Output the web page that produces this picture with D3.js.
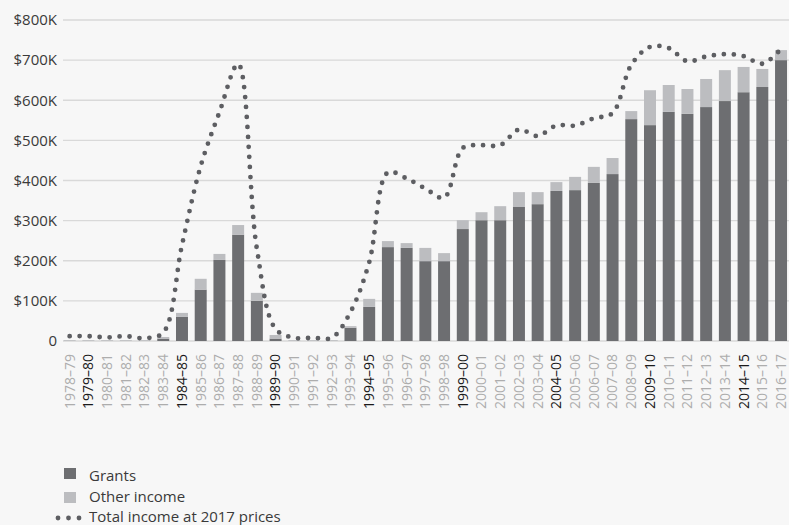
<!DOCTYPE html>
<html>
<head>
<meta charset="utf-8">
<script src="https://cdn.jsdelivr.net/npm/d3@7"></script>
<style>
  html, body { margin: 0; padding: 0; background: #f7f7f7; }
  svg { display: block; font-family: "Open Sans", sans-serif; }
</style>
</head>
<body>
<svg id="chart" width="789" height="525"></svg>
<script>
// ---- data (thousands of dollars) ----
const years = [
  '1978–79', '1979–80', '1980–81', '1981–82', '1982–83', '1983–84', '1984–85', '1985–86',
  '1986–87', '1987–88', '1988–89', '1989–90', '1990–91', '1991–92', '1992–93', '1993–94',
  '1994–95', '1995–96', '1996–97', '1997–98', '1998–98', '1999–00', '2000–01', '2001–02',
  '2002–03', '2003–04', '2004–05', '2005–06', '2006–07', '2007–08', '2008–09', '2009–10',
  '2010–11', '2011–12', '2012–13', '2013–14', '2014–15', '2015–16', '2016–17'
];
const grants = [
  0, 0, 0, 0, 0, 6, 60, 128, 202, 265, 100, 6, 0, 0, 0, 33,
  85, 234, 232, 199, 199, 279, 301, 301, 334, 341, 374, 376, 394, 416, 553, 538,
  571, 566, 583, 598, 620, 633, 700
];
const otherIncome = [
  2, 2, 2, 2, 2, 4, 10, 27, 15, 24, 20, 9, 2, 2, 2, 4,
  20, 15, 12, 33, 20, 22, 20, 35, 37, 30, 22, 33, 40, 40, 20, 87,
  67, 62, 70, 77, 63, 45, 25
];
const totalReal = [
  12, 12, 9, 12, 7, 21, 239, 436, 570, 690, 230, 30, 8, 8, 8, 72,
  196, 420, 405, 380, 357, 481, 488, 488, 527, 511, 537, 537, 555, 568, 688, 733,
  730, 697, 709, 715, 710, 691, 728
];
const yTicks = [0, 100, 200, 300, 400, 500, 600, 700, 800];
const yTickLabels = ['0', '$100K', '$200K', '$300K', '$400K', '$500K', '$600K', '$700K', '$800K'];
const legendItems = ['Grants', 'Other income', 'Total income at 2017 prices'];

// ---- colours ----
const darkGrey = '#6d6e71';
const lightGrey = '#bcbdc0';
const lineGrey = '#5d5e62';

const svg = d3.select('#chart');

const x = d3.scaleBand().domain(years).range([60.3, 790.4]).paddingInner(0.36).paddingOuter(0.18);
const y = d3.scaleLinear().domain([0, 800]).range([341, 20]);

// gridlines
svg.append('g')
  .selectAll('line')
  .data(yTicks)
  .join('line')
  .attr('x1', 63).attr('x2', 789)
  .attr('y1', d => y(d)).attr('y2', d => y(d))
  .attr('stroke', '#d9d9d9')
  .attr('stroke-width', 1.3);

// y labels
svg.append('g')
  .selectAll('text')
  .data(yTicks)
  .join('text')
  .attr('x', 57)
  .attr('y', d => y(d))
  .attr('dy', '0.35em')
  .attr('text-anchor', 'end')
  .attr('font-size', 15)
  .attr('fill', '#3a3a3a')
  .text((d, i) => yTickLabels[i]);

// stacked bars
const rows = years.map((yr, i) => ({ yr, g: grants[i], o: otherIncome[i] }));
const bars = svg.append('g');
bars.selectAll('.grant')
  .data(rows)
  .join('rect')
  .attr('class', 'grant')
  .attr('x', d => x(d.yr))
  .attr('width', x.bandwidth())
  .attr('y', d => y(d.g))
  .attr('height', d => y(0) - y(d.g))
  .attr('fill', darkGrey);
bars.selectAll('.other')
  .data(rows)
  .join('rect')
  .attr('class', 'other')
  .attr('x', d => x(d.yr))
  .attr('width', x.bandwidth())
  .attr('y', d => y(d.g + d.o))
  .attr('height', d => y(d.g) - y(d.g + d.o))
  .attr('fill', lightGrey);

// dotted total line
const line = d3.line()
  .x((d, i) => x(years[i]) + x.bandwidth() / 2)
  .y(d => y(d))
  .curve(d3.curveCatmullRom.alpha(0.5));
svg.append('path')
  .datum(totalReal)
  .attr('d', line)
  .attr('fill', 'none')
  .attr('stroke', lineGrey)
  .attr('stroke-width', 4.8)
  .attr('stroke-linecap', 'round')
  .attr('stroke-dasharray', '0 10');

// x labels
svg.append('g')
  .selectAll('text')
  .data(years)
  .join('text')
  .attr('transform', d => `translate(${x(d) + x.bandwidth() / 2},354) rotate(-90)`)
  .attr('dy', '0.35em')
  .attr('text-anchor', 'end')
  .attr('font-size', 14)
  .attr('fill', (d, i) => (i % 5 === 1 ? '#1a1a1a' : '#adadad'))
  .text(d => d);

// legend
const legend = svg.append('g');
legend.append('rect').attr('x', 64).attr('y', 468).attr('width', 12).attr('height', 11).attr('fill', darkGrey);
legend.append('rect').attr('x', 64).attr('y', 492).attr('width', 12).attr('height', 11).attr('fill', lightGrey);
legend.selectAll('circle')
  .data([58, 68.5, 79])
  .join('circle')
  .attr('cx', d => d).attr('cy', 518).attr('r', 2.4)
  .attr('fill', lineGrey);
legend.selectAll('text')
  .data(legendItems)
  .join('text')
  .attr('x', 89)
  .attr('y', (d, i) => [480.5, 502, 522][i])
  .attr('font-size', 15)
  .attr('fill', '#3a3a3a')
  .text(d => d);
</script>
</body>
</html>
